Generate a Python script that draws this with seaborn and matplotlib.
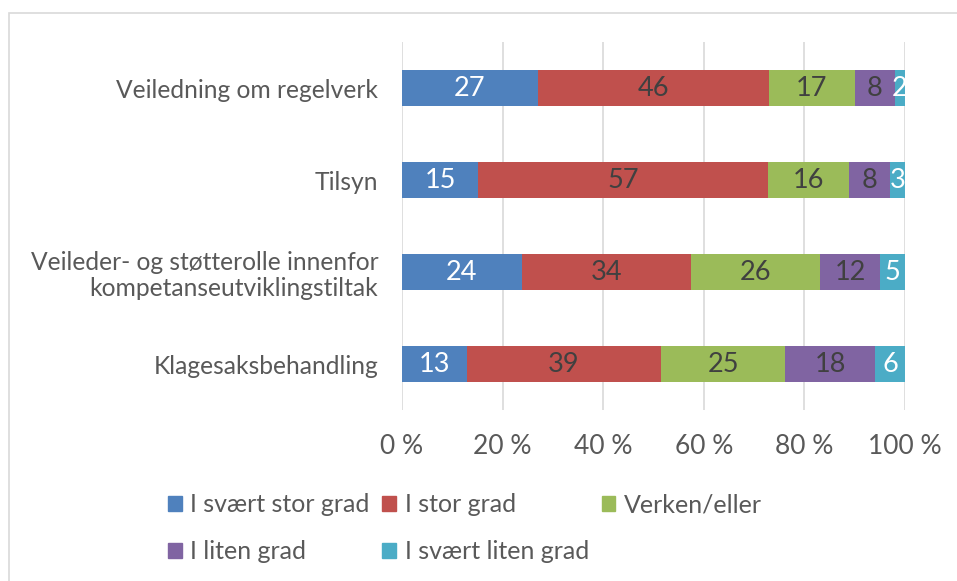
import numpy as np
import pandas as pd
import matplotlib
matplotlib.use("Agg")
import matplotlib.pyplot as plt
import seaborn as sns
from matplotlib.patches import Rectangle

# data
categories = ["Veiledning om regelverk", "Tilsyn",
              "Veileder- og støtterolle innenfor\nkompetanseutviklingstiltak",
              "Klagesaksbehandling"]
series = ["I svært stor grad", "I stor grad", "Verken/eller", "I liten grad", "I svært liten grad"]
svaert_stor = [27, 15, 24, 13]
stor = [46, 57, 34, 39]
verken = [17, 16, 26, 25]
liten = [8, 8, 12, 18]
svaert_liten = [2, 3, 5, 6]
colors = ["#4F81BD", "#C0504D", "#9BBB59", "#8064A2", "#4BACC6"]
label_colors = ["white", "#404040", "#404040", "#404040", "white"]

sns.set_style("white")
plt.rcParams["font.family"] = ["Lato", "DejaVu Sans"]
text_grey = "#595959"

df = pd.DataFrame(dict(zip(series, [svaert_stor, stor, verken, liten, svaert_liten])), index=categories)
pct = df.div(df.sum(axis=1), axis=0) * 100
cum = pct.cumsum(axis=1)

fig = plt.figure(figsize=(9.57, 5.81), dpi=100)
ax = fig.add_axes([402 / 957, 1 - 410 / 581, (905 - 402) / 957, (410 - 42) / 581])

# draw cumulative bars from the widest down so each segment shows
for i in reversed(range(len(series))):
    d = pd.DataFrame({"cat": categories, "val": cum[series[i]].values})
    sns.barplot(data=d, x="val", y="cat", color=colors[i], width=0.4,
                saturation=1, ax=ax, orient="h", linewidth=0)

# segment labels
for i, s in enumerate(series):
    left = cum[s] - pct[s]
    for j, cat in enumerate(categories):
        ax.text(left.iloc[j] + pct[s].iloc[j] / 2, j, str(df[s].iloc[j]),
                ha="center", va="center", fontsize=19.5, color=label_colors[i])

ax.set_xlim(0, 100)
ax.set_ylim(3.5, -0.5)
ax.set_xticks(np.arange(0, 101, 20))
ax.set_xticklabels([f"{t} %" for t in range(0, 101, 20)])
ax.set_xlabel("")
ax.set_ylabel("")
ax.xaxis.grid(True, color="#D9D9D9", linewidth=1.2)
ax.set_axisbelow(True)
for sp in ax.spines.values():
    sp.set_visible(False)
ax.tick_params(axis="x", length=0, pad=17, labelsize=19, labelcolor=text_grey)
ax.tick_params(axis="y", length=0, pad=17, labelsize=17.7, labelcolor=text_grey)
for lab in ax.get_yticklabels():
    lab.set_multialignment("right")
    lab.set_linespacing(1.15)

# legend, row-major order in three columns
handles = [Rectangle((0, 0), 1, 1, color=c) for c in colors]
order = [0, 3, 1, 4, 2]
fig.legend([handles[k] for k in order], [series[k] for k in order], ncol=3,
           loc="center", bbox_to_anchor=(465 / 957, 1 - 528 / 581), frameon=False,
           fontsize=18, labelcolor=text_grey, handlelength=0.55, handleheight=0.55,
           handletextpad=0.35, columnspacing=0.5, labelspacing=0.95)

# chart frame (top and left edges visible)
fig.patches.append(Rectangle((9 / 957, -0.1), 1.2, 1 - 13 / 581 + 0.1, transform=fig.transFigure,
                             fill=False, edgecolor="#D9D9D9", linewidth=1.2))

fig.savefig("out.png", dpi=100)
